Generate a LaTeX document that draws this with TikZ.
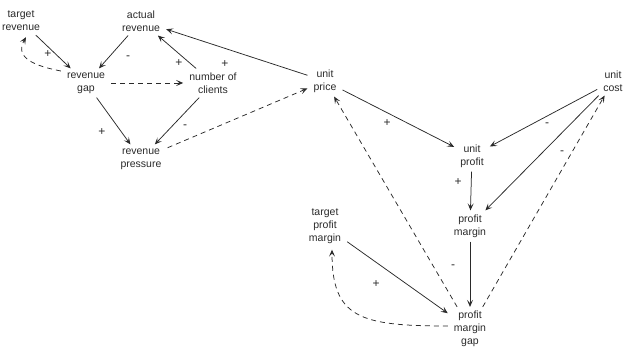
\documentclass[tikz,border=0pt]{standalone}
\usepackage{fontspec}
\setmainfont{Liberation Sans}
\usetikzlibrary{arrows.meta}
\definecolor{ink}{HTML}{2A2A2A}
\begin{document}
\begin{tikzpicture}[x=1pt,y=-1pt,
  var/.style={align=center,inner xsep=6pt,inner ysep=4pt,text=ink,font=\fontsize{10.5}{13}\selectfont},
  sgn/.style={text=ink,inner sep=0pt,font=\fontsize{12}{13}\selectfont},
  link/.style={draw=ink,line width=0.75pt,-{Stealth[length=7pt,width=6pt,inset=3.2pt]}},
  delay/.style={link,dash pattern=on 5pt off 4pt}]
\useasboundingbox (0,0) rectangle (626,352);

% variables
\node[var] (trev)   at (21,21)   {target\\revenue};
\node[var] (arev)   at (141,21)  {actual\\revenue};
\node[var] (rgap)   at (86,83)   {revenue\\gap};
\node[var] (ncl)    at (213,83)  {number of\\clients};
\node[var] (rpress) at (141,159) {revenue\\pressure};
\node[var] (uprice) at (325,81)  {unit\\price};
\node[var] (ucost)  at (613,81)  {unit\\cost};
\node[var] (uprof)  at (472,156) {unit\\profit};
\node[var] (pmarg)  at (470,226) {profit\\margin};
\node[var] (tpm)    at (325,226) {target\\profit\\margin};
\node[var] (pmgap)  at (470,329) {profit\\margin\\gap};

% causal links
\draw[link]  (trev) -- (rgap);
\draw[delay] ([yshift=12pt]rgap.west) .. controls (35,66) and (14,58) .. ([xshift=5pt,yshift=-2pt]trev.south);
\draw[link]  (arev) -- (rgap);
\draw[link]  (ncl) -- (arev);
\draw[link]  (uprice) -- (arev);
\draw[delay] (rgap) -- (ncl);
\draw[link]  (rgap) -- (rpress);
\draw[link]  (ncl) -- (rpress);
\draw[delay] (rpress) -- (uprice);
\draw[link]  (uprice) -- (uprof);
\draw[link]  (ucost) -- (uprof);
\draw[link]  (ucost) -- (pmarg);
\draw[delay] (pmgap) -- (ucost);
\draw[delay] (pmgap) -- (uprice);
\draw[link]  (uprof) -- (pmarg);
\draw[link]  (pmarg) -- (pmgap);
\draw[link]  (tpm) -- (pmgap);
\draw[delay] ([yshift=3pt]pmgap.west) .. controls (360,326) and (332,318) .. ([xshift=7pt,yshift=-2pt]tpm.south);

% polarity signs
\node[sgn] (s1)  at (48,54)   {+};
\node[sgn] (s2)  at (128,58)  {-};
\node[sgn] (s3)  at (179,63)  {+};
\node[sgn] (s4)  at (225,64)  {+};
\node[sgn] (s5)  at (102,132) {+};
\node[sgn] (s6)  at (185,127) {-};
\node[sgn] (s7)  at (387,123) {+};
\node[sgn] (s8)  at (547,125) {-};
\node[sgn] (s9)  at (562,153) {-};
\node[sgn] (s10) at (458,182) {+};
\node[sgn] (s11) at (453,267) {-};
\node[sgn] (s12) at (376,284) {+};
\end{tikzpicture}
\end{document}
